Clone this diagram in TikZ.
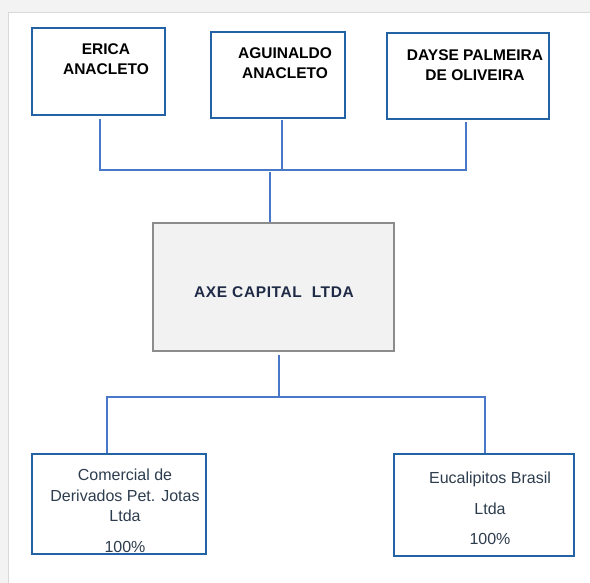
\documentclass[tikz,border=0pt]{standalone}
\usepackage{fontspec}
\setmainfont{Liberation Sans}
\definecolor{boxblue}{HTML}{2462A6}
\definecolor{connblue}{HTML}{4A78C8}
\definecolor{axefill}{HTML}{F2F2F2}
\definecolor{axeline}{HTML}{8C8C8C}
\definecolor{axetext}{HTML}{1F2B46}
\definecolor{subtext}{HTML}{2E3D4E}
\definecolor{bgframe}{HTML}{F3F3F3}
\definecolor{frameline}{HTML}{D9D9D9}
\begin{document}
\begin{tikzpicture}[x=1pt,y=-1pt,
  ownerbox/.style={draw=boxblue,line width=1.5pt,fill=white,inner sep=0pt},
  axebox/.style={draw=axeline,line width=1.5pt,fill=axefill,inner sep=0pt},
  subbox/.style={draw=boxblue,line width=1.5pt,fill=white,inner sep=0pt},
  ownertext/.style={font=\fontsize{15.5}{20}\selectfont\bfseries,align=center,inner sep=0pt,text=black},
  axelabel/.style={font=\fontsize{15.5}{20}\selectfont\bfseries\addfontfeature{LetterSpace=4},inner sep=0pt,text=axetext},
  subtextstyle/.style={font=\fontsize{16}{20.5}\selectfont,align=center,inner sep=0pt,text=subtext},
  conn/.style={draw=connblue,line width=1.3pt}]
\useasboundingbox (0,0) rectangle (590,583);
\fill[bgframe] (0,0) rectangle (590,583);
\fill[white] (8,13) rectangle (590,583);
\draw[frameline,line width=1pt] (8,583) -- (8,13) -- (590,13);

% owners
\node[ownerbox,minimum width=133pt,minimum height=87pt] (erica) at (98.5,71.5) {};
\node[ownerbox,minimum width=134pt,minimum height=86pt] (agui) at (278,75) {};
\node[ownerbox,minimum width=162pt,minimum height=86pt] (dayse) at (468,76) {};
\node[ownertext] (ericat) at (106,59) {ERICA\\ANACLETO};
\node[ownertext] (aguit) at (285,63.5) {AGUINALDO\\ANACLETO};
\node[ownertext] (dayset) at (475,65.5) {DAYSE PALMEIRA\\DE OLIVEIRA};

% company
\node[axebox,minimum width=241pt,minimum height=128pt] (axe) at (273.5,287) {};
\node[axelabel] (axet) at (274,292) {AXE CAPITAL\ \ LTDA};

% subsidiaries
\node[subbox,minimum width=174pt,minimum height=100pt] (com) at (119,504) {};
\node[subbox,minimum width=180pt,minimum height=102pt] (euc) at (484,505) {};
\node[subtextstyle] (comt) at (125,511) {Comercial de\\Derivados Pet. Jotas\\Ltda\\[10.5pt]100\%};
\node[subtextstyle] (euct) at (490,508) {Eucalipitos Brasil\\[10.5pt]Ltda\\[9.5pt]100\%};

% top connectors
\coordinate (busT) at (270,170);
\draw[conn] ([xshift=1.5pt,yshift=-3pt]erica.south) |- ([xshift=-2pt]dayse.south |- busT) -- ([xshift=-2pt,yshift=-2pt]dayse.south);
\draw[conn] ([xshift=4pt,yshift=-1pt]agui.south) -- ([xshift=4pt]agui.south |- busT);
\draw[conn] ([yshift=-2pt]busT) -- ([xshift=-3.5pt]axe.north);

% bottom connectors
\coordinate (busB) at (279,397);
\draw[conn] ([xshift=5.5pt,yshift=-3pt]axe.south) -- (busB);
\draw[conn] ([xshift=-12pt]com.north) |- (busB) -| ([xshift=1pt]euc.north);
\end{tikzpicture}
\end{document}
